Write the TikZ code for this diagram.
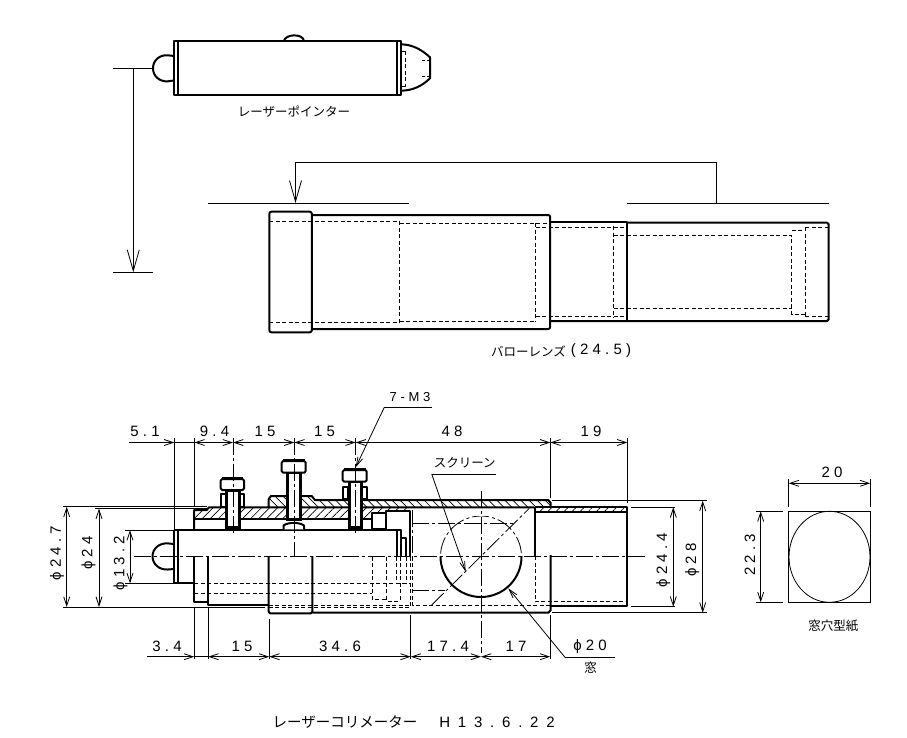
\documentclass[tikz,border=0pt]{standalone}
\usepackage{fontspec}
\setmainfont{Liberation Sans}
\newfontfamily\jpfont{Noto Sans CJK JP}
\newfontfamily\dimfont[LetterSpace=28]{Liberation Sans}
\newfontfamily\datefont[LetterSpace=52]{Liberation Sans}
\usetikzlibrary{arrows.meta,patterns.meta}
\begin{document}
\begin{tikzpicture}[x=1pt,y=-1pt]
\tikzstyle{every node}+=[inner sep=0pt]
\tikzstyle{fat}=[line width=2pt,line join=round]
\tikzstyle{bold}=[line width=3pt]
\tikzstyle{fine}=[line width=0.8pt]
\tikzstyle{hidden}=[line width=0.8pt,dash pattern=on 4pt off 2.5pt]
\tikzstyle{chain}=[line width=0.8pt,dash pattern=on 17pt off 3pt on 3pt off 3pt]
\tikzstyle{dimline}=[line width=0.8pt,{Straight Barb[length=9pt,width=6pt]}-{Straight Barb[length=9pt,width=6pt]}]
\tikzstyle{dimleft}=[line width=0.8pt,-{Straight Barb[length=9pt,width=6pt]}]
\tikzstyle{cutarrow}=[line width=0.8pt,-{Straight Barb[length=21pt,width=12pt]}]
\tikzstyle{dimtext}=[font=\dimfont\fontsize{15}{16}\selectfont]
\tikzstyle{jptext}=[font=\jpfont\fontsize{12.5}{14}\selectfont]
\tikzstyle{upsec}=[pattern={Lines[angle=-45,distance=5.7pt,line width=0.7pt]}]
\tikzstyle{lowsec}=[pattern={Lines[angle=45,distance=5.7pt,line width=0.7pt]}]
\useasboundingbox (0,0) rectangle (907,737);

\draw [fat] (174,41) rectangle (401,95);
\draw [fat] (178,41) -- (178,95);
\draw [fat] (397,41) -- (397,95);
\draw [fat] (284,41) .. controls (285,34) and (303,33) .. (304,41);
\draw [fat] (174,56) -- (168,55.3) .. controls (160,54.5) and (153,60) .. (153,68.3) .. controls (153,76.5) and (160,82) .. (168,81.3) -- (174,80.5);
\draw [fat] (401,44.3) .. controls (413,44.5) and (422,50) .. (430,57.3) -- (430,78.3) .. controls (422,86) and (413,90.5) .. (401,90.7);
\draw [fine] (402,51) -- (405.7,51);
\draw [hidden] (405.7,51) -- (405.7,86);
\draw [fine] (405.7,86) -- (402,86);
\draw [fine] (422,60.3) -- (425,60.3);
\draw [fine] (427,60.3) -- (430,60.3);
\draw [fine] (422,76) -- (425,76);
\draw [fine] (427,76) -- (430,76);
\node [jptext] (pointerlabel) at (294,112) {レーザーポインター};

\draw [fine] (113,68.3) -- (153,68.3);
\draw [fine] (113,272.3) -- (153,272.3);
\draw [cutarrow] (133.3,68.3) -- (133.3,272.3);
\draw [cutarrow] (716,203) -- (716,162) -- (295.5,162) -- (295.5,203);
\draw [fine] (208,203) -- (409,203);
\draw [fine] (627,203) -- (829,203);

\draw [fat,rounded corners=2pt] (269.4,211.7) rectangle (311.8,332.3);
\draw [fat,rounded corners=2pt] (311.8,215) -- (550.2,215) -- (550.2,329) -- (311.8,329);
\draw [fat] (550.2,221.7) -- (627.3,221.7) -- (627.3,321);
\draw [fat,rounded corners=1.5pt] (627.3,222.7) -- (828.6,222.7) -- (828.6,321) -- (550.2,321);
\draw [hidden] (269.4,221.3) -- (399.6,221.3) -- (399.6,322.3) -- (269.4,322.3);
\draw [hidden] (399.6,223.3) -- (550.2,223.3);
\draw [hidden] (399.6,321) -- (535.5,321);
\draw [hidden] (535.5,223) -- (535.5,321.7);
\draw [hidden] (535.5,227.3) -- (627.3,227.3);
\draw [hidden] (535.5,316.7) -- (627.3,316.7);
\draw [hidden] (613.5,226) -- (613.5,317.7);
\draw [hidden] (613.5,235.3) -- (791.8,235.3) -- (791.8,314.3) -- (805.3,314.3);
\draw [hidden] (613.5,308.3) -- (791.8,308.3);
\draw [hidden] (791.8,230) -- (805.3,230);
\draw [hidden] (805.3,227.3) -- (805.3,316);
\draw [hidden] (805.3,227.3) -- (828.6,227.3);
\draw [hidden] (805.3,316) -- (828.6,316);
\node [jptext] (barlowlabel) at (528.5,351) {バローレンズ};
\node [dimtext] (barlowsize) at (601,351) {(24.5)};

\fill [upsec] (268.7,507.3) -- (268.7,499) -- (271,496) -- (311.7,496) -- (315,500) -- (548.3,500) -- (550.7,503) -- (550.7,507.3) -- cycle;
\fill [lowsec] (194,519.3) -- (194,510) -- (206.7,510) -- (209,507.3) -- (410,507.3) -- (410,511) -- (386,511) -- (386,513.3) -- (371.7,513.3) -- (371.7,519.3) -- cycle;
\fill [lowsec] (535,507.3) rectangle (627.3,511.7);
\draw [fat] (194,529.3) -- (194,510) -- (206.7,510) -- (209,507.3) -- (534.3,507.3);
\draw [fat] (194,519.3) -- (371.7,519.3);
\draw [fat] (268.7,507.3) -- (268.7,499) -- (271,496) -- (311.7,496) -- (315,500) -- (548.3,500) -- (550.7,503) -- (550.7,506);
\draw [fat] (535,507.3) -- (627.3,507.3) -- (627.3,606) -- (550.7,606);
\draw [fat] (535,511.7) -- (627.3,511.7);
\draw [fat] (535,507.3) -- (535,556);
\draw [fat] (550.7,555) -- (550.7,610) -- (548.5,612.7) -- (312.3,612.7);
\draw [fat] (371.7,513.3) rectangle (386,529.3);
\draw [fat] (386,529.3) -- (386,511) -- (410,511) -- (410,556.7);
\draw [fat] (174,530) -- (401,530) -- (401,556.7);
\draw [fat] (174,530) -- (174,582.7) -- (194,582.7);
\draw [fat] (178,530) -- (178,582.7);
\draw [fat] (396.7,530) -- (396.7,556.7);
\draw [fat] (401,538.3) -- (406,538.3) -- (406,556.7);
\draw [fat] (174,544) -- (168,543.4) .. controls (159.5,542.7) and (152.5,548.5) .. (152.5,556.3) .. controls (152.5,564.2) and (159.5,570.2) .. (168,569.5) -- (174,569);
\draw [fat] (194,556) -- (194,602) -- (207.7,602);
\draw [fat] (207.7,556) -- (207.7,605) -- (268.7,605);
\draw [fat,rounded corners=1.5pt] (268.7,556) -- (268.7,613.3) -- (312.3,613.3) -- (312.3,556);

\draw [fat,fill=white] (220.7,494.3) rectangle (225.7,506.7);
\draw [fat,fill=white] (239.7,494.3) rectangle (244,506.7);
\draw [bold,fill=white] (226,490) rectangle (239,529);
\fill (226,526) rectangle (239,530);
\draw [fat,fill=white,rounded corners=1.5pt] (220.7,479) rectangle (244,490);
\draw [bold] (222,478.5) -- (243,478.5);

\draw [bold,fill=white] (287,472.7) rectangle (300.5,519);
\draw [fat,fill=white,rounded corners=1.5pt] (281.7,461) rectangle (305.7,472.7);
\draw [bold] (283,460.7) -- (304.5,460.7);
\draw [fat,fill=white] (283.5,529.3) -- (283.5,525.5) .. controls (288,522) and (299.5,522) .. (304,525.5) -- (304,529.3);

\draw [fat,fill=white] (342.7,486.7) rectangle (347.7,499.3);
\draw [fat,fill=white] (362.3,486.7) rectangle (366.7,499.3);
\draw [bold,fill=white] (349,481.7) rectangle (361.7,529);
\fill (349,526) rectangle (361.7,530);
\draw [fat,fill=white,rounded corners=1.5pt] (342.7,470) rectangle (366.7,481.7);
\draw [bold] (344,469.3) -- (365.5,469.3);

\draw [hidden] (194,583.3) -- (410,583.3);
\draw [hidden] (194,593.3) -- (372.3,593.3);
\draw [hidden] (268.7,605) -- (412,605);
\draw [hidden] (268.7,607.3) -- (410,607.3);
\draw [hidden] (372.3,556.7) -- (372.3,599.3) -- (386.7,599.3);
\draw [hidden] (386.7,556.7) -- (386.7,601) -- (400,601);
\draw [hidden] (396.7,556.7) -- (396.7,583);
\draw [hidden] (400,556.7) -- (400,601);
\draw [hidden] (406,556.7) -- (406,583);
\draw [hidden] (410,556.7) -- (410,606);
\draw [hidden] (412.3,556.7) -- (412.3,605) -- (550.7,605);
\draw [hidden] (535,556) -- (535,601.7) -- (627.3,601.7);
\draw [chain] (412.3,510) -- (412.3,556.7);
\draw [chain] (412.3,523.3) -- (513,523.3);
\draw [chain] (412.3,590) -- (445,590);
\draw [chain] (431.7,605) -- (529.3,508.3);
\begin{scope}
\clip (430,516) rectangle (532,556.5);
\draw [chain] (481,556.5) circle (40.5);
\end{scope}
\begin{scope}
\clip (430,556.5) rectangle (532,600);
\draw [fat] (481,556.5) circle (40.5);
\end{scope}
\draw [chain] (134,556.5) -- (647.3,556.5);
\draw [chain] (481,490.7) -- (481,653);
\draw [chain] (233,438) -- (233,534);
\draw [chain] (294.3,438) -- (294.3,556.5);
\draw [chain] (355.7,438) -- (355.7,534);

\draw [fine] (174.3,438) -- (174.3,529);
\draw [fine] (194.3,438) -- (194.3,506.7);
\draw [fine] (550.3,438) -- (550.3,498);
\draw [fine] (627.3,438) -- (627.3,503);
\draw [dimleft] (128.7,442.5) -- (174.3,442.5);
\draw [fine] (174.3,442.5) -- (194.3,442.5);
\draw [dimline] (194.3,442.5) -- (233,442.5);
\draw [dimline] (233,442.5) -- (294.3,442.5);
\draw [dimline] (294.3,442.5) -- (355.7,442.5);
\draw [dimline] (355.7,442.5) -- (550.3,442.5);
\draw [dimline] (550.3,442.5) -- (627.3,442.5);
\node [dimtext] (dima) at (145,431.7) {5.1};
\node [dimtext] (dimb) at (214.5,431.7) {9.4};
\node [dimtext] (dimc) at (265,431.7) {15};
\node [dimtext] (dimd) at (324.5,431.7) {15};
\node [dimtext] (dime) at (452,431.7) {48};
\node [dimtext] (dimf) at (591,431.7) {19};

\draw [fine] (194.3,606.7) -- (194.3,659);
\draw [fine] (208.3,606.7) -- (208.3,659);
\draw [fine] (269.3,619.3) -- (269.3,659);
\draw [fine] (410.7,615) -- (410.7,659);
\draw [fine] (550.3,615) -- (550.3,659);
\draw [dimleft] (147.3,656.7) -- (194.3,656.7);
\draw [fine] (194.3,656.7) -- (208.3,656.7);
\draw [dimline] (208.3,656.7) -- (269.3,656.7);
\draw [dimline] (269.3,656.7) -- (410.7,656.7);
\draw [dimline] (410.7,656.7) -- (481,656.7);
\draw [dimline] (481,656.7) -- (550.3,656.7);
\node [dimtext] (dimg) at (167,646.7) {3.4};
\node [dimtext] (dimh) at (242,646.7) {15};
\node [dimtext] (dimi) at (340,646.7) {34.6};
\node [dimtext] (dimj) at (448,646.7) {17.4};
\node [dimtext] (dimk) at (516,646.7) {17};

\draw [fine] (63.3,506.7) -- (206.7,506.7);
\draw [fine] (95,508.7) -- (206.7,508.7);
\draw [fine] (63.3,607) -- (265,607);
\draw [fine] (125,530) -- (174.3,530);
\draw [fine] (125,583.3) -- (174.3,583.3);
\draw [dimline] (66.7,506.7) -- (66.7,607);
\draw [dimline] (99,508.7) -- (99,607);
\draw [dimline] (130,530) -- (130,583.3);
\node [dimtext,rotate=90] (dimphia) at (57,553) {ϕ24.7};
\node [dimtext,rotate=90] (dimphib) at (88.5,553) {ϕ24};
\node [dimtext,rotate=90] (dimphic) at (120.5,563) {ϕ13.2};

\draw [fine] (551.7,500.7) -- (706.7,500.7);
\draw [fine] (551.7,612.7) -- (706.7,612.7);
\draw [fine] (631,507.3) -- (675,507.3);
\draw [fine] (631,606.7) -- (675,606.7);
\draw [dimline] (673.3,507.3) -- (673.3,606.7);
\draw [dimline] (702.7,500.7) -- (702.7,612.7);
\node [dimtext,rotate=90] (dimphid) at (663.3,560) {ϕ24.4};
\node [dimtext,rotate=90] (dimphie) at (692.3,560) {ϕ28};

\draw [fine] (432,407.3) -- (384.3,407.3);
\draw [fine,-{Straight Barb[length=9pt,width=5pt]}] (384.3,407.3) -- (355.7,467.3);
\node [dimtext,font=\dimfont\fontsize{13}{14}\selectfont] (boltlabel) at (410,397) {7-M3};
\draw [fine] (496,474) -- (431.7,474);
\draw [fine,-{Straight Barb[length=9pt,width=5pt]}] (431.7,474) -- (465.7,571.7);
\node [jptext] (screenlabel) at (464.7,463) {スクリーン};
\draw [fine] (615,657.3) -- (565,657.3);
\draw [fine,-{Straight Barb[length=9pt,width=5pt]}] (565,657.3) -- (508.3,588.3);
\node [dimtext] (windowsize) at (590,646.7) {ϕ20};
\node [jptext] (windowlabel) at (590.7,668) {窓};

\draw [fine] (788.7,511.3) rectangle (870.3,602.3);
\draw [fine] (829.5,556.8) ellipse (40.5 and 45.5);
\draw [fine] (788.7,479) -- (788.7,506.7);
\draw [fine] (870.3,479) -- (870.3,506.7);
\draw [fine] (756,511.3) -- (783.3,511.3);
\draw [fine] (756,602.3) -- (783.3,602.3);
\draw [dimline] (788.7,483.3) -- (870.3,483.3);
\draw [dimline] (760.7,511.3) -- (760.7,602.3);
\node [dimtext] (dimm) at (832,472.7) {20};
\node [dimtext,rotate=90] (dimn) at (750,555) {22.3};
\node [jptext] (templatelabel) at (833.3,626) {窓穴型紙};

\node [jptext,font=\jpfont\fontsize{14.5}{16}\selectfont] (titlelabel) at (345,722) {レーザーコリメーター};
\node [dimtext,font=\datefont\fontsize{15}{16}\selectfont] (titledate) at (497,722) {H13.6.22};
\end{tikzpicture}
\end{document}
